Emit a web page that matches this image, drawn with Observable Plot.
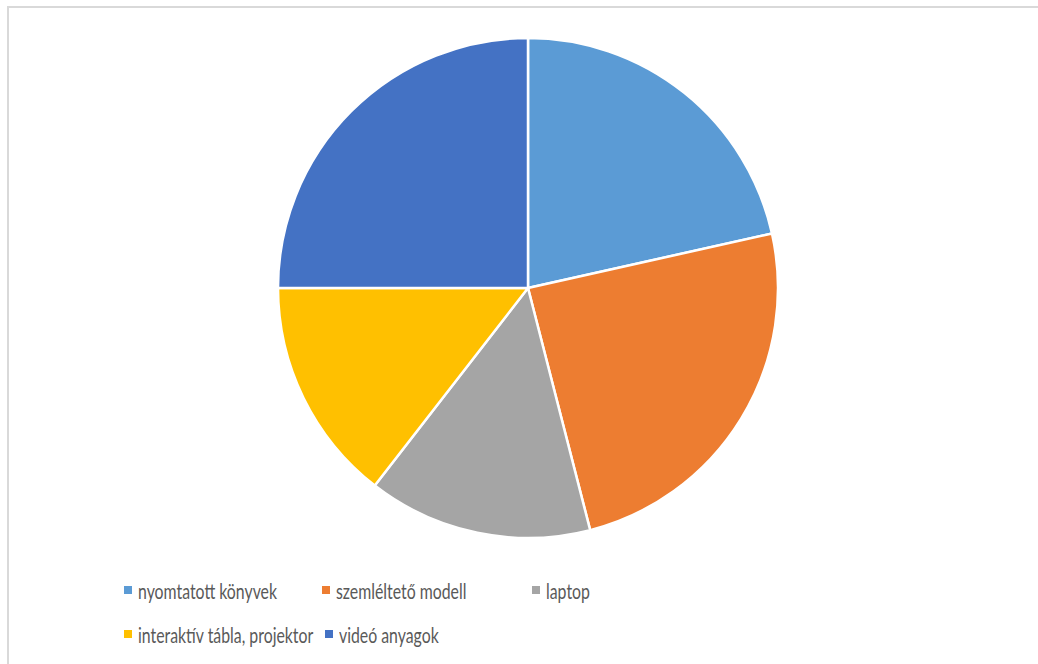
<!DOCTYPE html>
<html>
<head>
<meta charset="utf-8">
<script src="https://cdn.jsdelivr.net/npm/d3@7"></script>
<script src="https://cdn.jsdelivr.net/npm/@observablehq/plot@0.6"></script>
<style>
  html, body { margin: 0; padding: 0; background: #fff; }
  #wrap { position: relative; width: 1038px; height: 664px; overflow: hidden; font-family: Lato, "Open Sans", sans-serif; }
  #frame { position: absolute; left: 7px; top: 6px; width: 1100px; height: 700px; border-top: 2px solid #d9d9d9; border-left: 2px solid #d9d9d9; }
  #chart { position: absolute; left: 0; top: 0; }
  .leg { position: absolute; display: flex; align-items: center; font-size: 22px; color: #595959; white-space: nowrap; }
  .sw { width: 8px; height: 8px; margin-right: 6px; flex: none; }
  .tx { display: inline-block; transform-origin: 0 50%; }
</style>
</head>
<body>
<div id="wrap">
  <div id="frame"></div>
  <div id="chart"></div>
</div>
<script>
const categories = ["nyomtatott könyvek", "szemléltető modell", "laptop", "interaktív tábla, projektor", "videó anyagok"];
const values = [21.5, 24.5, 14.5, 14.5, 25];
const colors = ["#5B9BD5", "#ED7D31", "#A5A5A5", "#FFC000", "#4472C4"];

// legend layout (pixel placement only)
const legendLeft = [124, 322, 532, 124, 325];
const legendTop = [590, 590, 590, 634, 634];
const firstLabelWidth = 139;

const data = categories.map((c, i) => ({category: c, value: values[i]}));
const arcs = d3.pie().sort(null).value(d => d.value)(data);

const pieMark = (index, scales, channels, dimensions) => {
  const cx = (scales.x(-1) + scales.x(1)) / 2;
  const cy = (scales.y(-1) + scales.y(1)) / 2;
  const r = Math.abs(scales.x(1) - scales.x(-1)) / 2;
  const arc = d3.arc().innerRadius(0).outerRadius(r);
  const color = scales.color;
  const g = d3.create("svg:g").attr("transform", `translate(${cx},${cy})`);
  g.selectAll("path").data(arcs).join("path")
    .attr("d", arc)
    .attr("fill", d => color(d.data.category))
    .attr("stroke", "#fff")
    .attr("stroke-width", 2.5)
    .attr("stroke-linejoin", "round");
  return g.node();
};

const plot = Plot.plot({
  width: 1038,
  height: 560,
  marginLeft: 278,
  marginRight: 260,
  marginTop: 38,
  marginBottom: 22,
  x: {domain: [-1, 1], axis: null},
  y: {domain: [-1, 1], axis: null},
  color: {domain: categories, range: colors},
  marks: [
    Plot.dot(data, {x: () => 0, y: () => 0, r: 0, fill: "category"}),
    pieMark
  ]
});
document.getElementById("chart").appendChild(plot);

const wrap = document.getElementById("wrap");
const texts = [];
categories.forEach((c, i) => {
  const item = document.createElement("div");
  item.className = "leg";
  item.style.left = legendLeft[i] + "px";
  item.style.top = (legendTop[i] - 14) + "px";
  item.style.height = "28px";
  const sw = document.createElement("span");
  sw.className = "sw";
  sw.style.background = colors[i];
  const tx = document.createElement("span");
  tx.className = "tx";
  tx.textContent = c;
  item.appendChild(sw);
  item.appendChild(tx);
  wrap.appendChild(item);
  texts.push(tx);
});
const w0 = texts[0].getBoundingClientRect().width;
const s = firstLabelWidth / w0;
texts.forEach(t => t.style.transform = `scaleX(${s})`);
</script>
</body>
</html>
